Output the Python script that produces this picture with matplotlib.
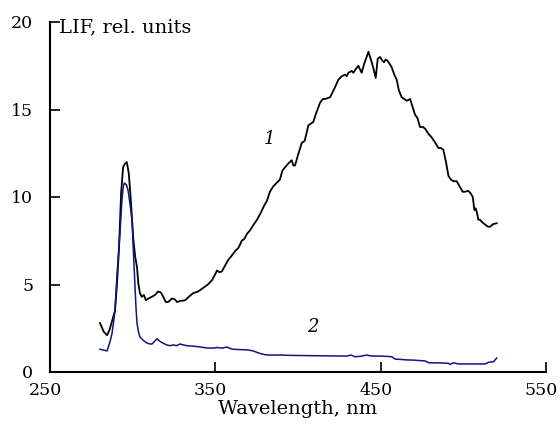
import matplotlib
matplotlib.use("Agg")
import matplotlib.pyplot as plt
from matplotlib.transforms import ScaledTranslation

# curve 1 (black) - LIF spectrum
wl1 = [280.2, 282.5, 284.5, 286.0, 287.5, 289.3, 290.5, 291.7, 293.0, 294.2,
       295.3, 296.4, 297.6, 298.6, 299.5, 300.4, 301.5, 302.6, 303.5, 304.4,
       305.5, 306.8, 308.0, 309.5, 311.7, 313.5, 315.3, 317.0, 318.5, 320.0,
       321.5, 323.8, 325.5, 326.8, 328.5, 331.7, 334.0, 336.5, 339.5, 342.6,
       345.5, 348.0, 350.0, 351.0, 352.5, 354.0, 356.0, 357.8, 359.5, 361.9,
       364.0, 366.0, 367.5, 369.2, 371.0, 373.0, 375.2, 377.5, 379.5, 381.3,
       383.0, 385.0, 387.0, 389.1, 390.5, 392.2, 394.0, 396.2, 397.2, 398.2,
       400.0, 402.3, 404.0, 406.3, 408.0, 409.3, 411.0, 413.4, 415.0, 416.4,
       418.0, 419.4, 421.0, 422.5, 424.4, 426.5, 428.5, 429.5, 430.5, 432.5,
       433.5, 434.5, 436.5, 437.5, 438.5, 440.0, 442.6, 444.6, 446.0, 447.0,
       448.2, 449.6, 451.0, 452.0, 453.0, 454.0, 455.5, 456.7, 458.2, 459.7,
       461.0, 462.7, 464.2, 465.8, 467.8, 469.5, 470.8, 472.3, 473.8, 475.5,
       476.9, 479.0, 480.9, 483.0, 484.9, 486.5, 487.9, 489.5, 491.0, 492.5,
       494.0, 496.0, 497.8, 499.6, 501.0, 503.0, 504.5, 505.7, 506.7, 507.5,
       508.1, 509.1, 510.1, 511.5, 513.5, 515.0, 516.2, 518.0, 520.2]
lif1 = [2.8, 2.3, 2.1, 2.4, 2.9, 3.5, 5.0, 7.0, 10.2, 11.7,
        11.9, 12.0, 11.4, 10.2, 8.9, 7.6, 6.6, 6.0, 5.0, 4.5,
        4.3, 4.4, 4.1, 4.2, 4.3, 4.4, 4.6, 4.55, 4.3, 4.0,
        4.0, 4.2, 4.15, 4.0, 4.05, 4.1, 4.3, 4.5, 4.6, 4.8,
        5.0, 5.25, 5.6, 5.8, 5.7, 5.75, 6.1, 6.4, 6.6, 6.9,
        7.1, 7.5, 7.6, 7.9, 8.1, 8.4, 8.7, 9.1, 9.5, 9.8,
        10.3, 10.6, 10.8, 11.0, 11.5, 11.7, 11.9, 12.1, 11.8, 11.8,
        12.4, 13.1, 13.2, 14.1, 14.2, 14.3, 14.8, 15.4, 15.6, 15.6,
        15.65, 15.7, 16.0, 16.3, 16.7, 16.9, 17.0, 16.9, 17.1, 17.2,
        17.1, 17.25, 17.5, 17.3, 17.1, 17.6, 18.3, 17.7, 17.2, 16.8,
        17.9, 18.0, 17.8, 17.7, 17.85, 17.8, 17.6, 17.4, 17.0, 16.7,
        16.1, 15.7, 15.6, 15.5, 15.6, 15.1, 14.7, 14.5, 14.0, 14.0,
        13.9, 13.6, 13.4, 13.1, 12.8, 12.8, 12.7, 12.0, 11.2, 11.0,
        10.9, 10.9, 10.6, 10.3, 10.3, 10.35, 10.2, 10.0, 9.25, 9.35,
        9.15, 8.7, 8.7, 8.55, 8.4, 8.3, 8.3, 8.45, 8.5]

# curve 2 (blue)
wl2 = [280.2, 282.5, 284.5, 285.1, 286.5, 287.5, 288.5, 289.3, 290.5, 292.3,
       293.5, 294.3, 295.0, 296.2, 297.2, 298.4, 299.6, 300.5, 301.4, 302.0,
       302.6, 303.5, 304.4, 306.5, 308.7, 310.5, 311.7, 313.2, 314.7, 316.5,
       318.4, 320.5, 322.6, 324.5, 326.5, 328.6, 330.5, 332.9, 336.5, 340.7,
       343.0, 345.0, 349.0, 351.5, 352.8, 355.0, 357.0, 358.8, 360.7, 365.0,
       369.8, 373.0, 375.8, 378.5, 381.3, 385.0, 389.0, 395.0, 410.0, 420.0,
       429.5, 432.0, 434.5, 438.0, 441.5, 443.5, 445.5, 450.0, 454.0, 456.7,
       458.7, 462.0, 465.8, 470.0, 476.9, 478.9, 485.0, 491.0, 492.0, 494.0,
       497.0, 505.0, 513.2, 515.2, 518.3, 520.2]
lif2 = [1.3, 1.25, 1.2, 1.37, 1.8, 2.2, 2.9, 3.5, 5.5, 7.9,
        9.8, 10.6, 10.8, 10.7, 10.4, 9.6, 8.7, 6.8, 4.9, 3.7,
        2.8, 2.3, 2.0, 1.8, 1.65, 1.6, 1.6, 1.75, 1.9, 1.75,
        1.65, 1.55, 1.5, 1.55, 1.5, 1.6, 1.55, 1.5, 1.48, 1.43,
        1.4, 1.37, 1.37, 1.4, 1.37, 1.38, 1.43, 1.35, 1.3, 1.28,
        1.26, 1.2, 1.1, 1.02, 0.97, 0.97, 0.97, 0.95, 0.93, 0.92,
        0.91, 0.97, 0.87, 0.9, 0.97, 0.93, 0.91, 0.91, 0.89, 0.87,
        0.74, 0.72, 0.69, 0.68, 0.63, 0.53, 0.52, 0.5, 0.43, 0.53,
        0.46, 0.46, 0.46, 0.55, 0.59, 0.8]

xticks = [250, 350, 450, 550]
yticks = [0, 5, 10, 15, 20]

plt.rcParams['font.family'] = ['DejaVu Serif']

fig = plt.figure(figsize=(5.6, 4.25), dpi=100)
ax = fig.add_axes([50/560, 1 - 372/425, 496/560, 350/425])

ax.plot(wl1, lif1, color='black', lw=1.3)
ax.plot(wl2, lif2, color='#141480', lw=1.1)

ax.set_xlim(250, 550)
ax.set_ylim(0, 20)
ax.set_xticks(xticks)
ax.set_yticks(yticks)
ax.tick_params(direction='in', length=7, width=1.2, labelsize=12.5)
ax.tick_params(axis='y', pad=12)
ax.tick_params(axis='x', pad=7)
# x tick labels sit a little left of their ticks in the original
shift = ScaledTranslation(-5/100, 0, fig.dpi_scale_trans)
for lbl in ax.get_xticklabels():
    lbl.set_transform(lbl.get_transform() + shift)
for s in ['top', 'right']:
    ax.spines[s].set_visible(False)
for s in ['left', 'bottom']:
    ax.spines[s].set_linewidth(1.5)

ax.set_xlabel('Wavelength, nm', fontsize=14, labelpad=1)
ax.text(0.018, 0.985, 'LIF, rel. units', transform=ax.transAxes,
        fontsize=14, va='center', ha='left')

ax.text(383, 13.3, '1', fontsize=13, style='italic', ha='center', va='center')
ax.text(409, 2.6, '2', fontsize=13, style='italic', ha='center', va='center')

fig.savefig('out.png', dpi=100)
